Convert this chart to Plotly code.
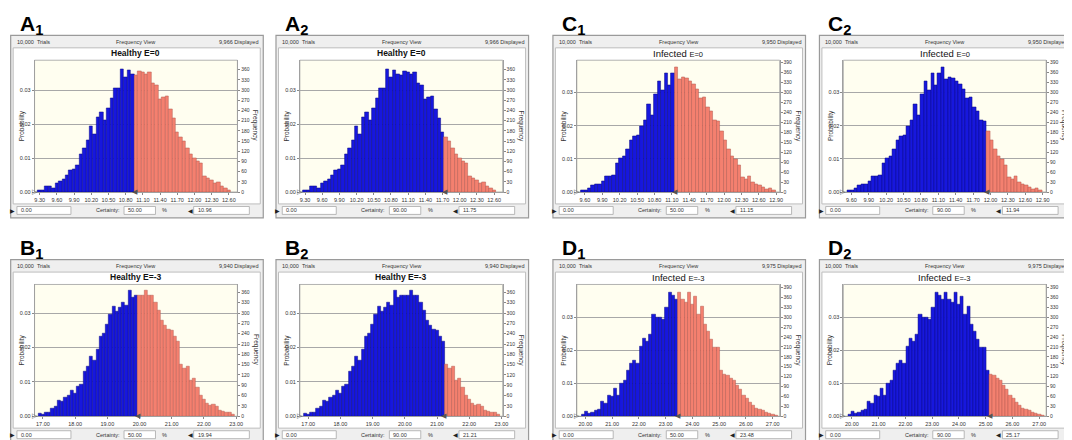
import plotly.graph_objects as go

W, H = 1072, 440
TRIALS = 10000

# ---- simulated histograms read off the Crystal Ball frequency views ----
# Healthy, E=0 (A1 / A2)
healthy0_start, healthy0_step = 9.30, 0.06
healthy0_counts = [5, 5, 16, 17, 12, 27, 32, 37, 50, 64, 67, 78, 112, 130, 152, 195, 170, 219,
                   234, 211, 247, 275, 307, 307, 362, 338, 360, 348,
                   343, 355, 352, 348, 352, 320, 313, 272, 279, 282, 245, 216, 175, 160, 150,
                   130, 110, 100, 90, 85, 47, 42, 36, 27, 30, 16, 12, 6]
healthy0_ticks = [9.30, 9.60, 9.90, 10.20, 10.50, 10.80, 11.10, 11.40, 11.70, 12.00, 12.30, 12.60]
healthy0_range = [9.21, 12.75]
healthy0_freq_top = 388
healthy0_displayed = "9,966"

# Healthy, E=-3 (B1 / B2)
healthy3_start, healthy3_step = 16.90, 0.10
healthy3_counts = [8, 6, 10, 12, 23, 28, 47, 44, 54, 59, 75, 67, 87, 92, 131, 144, 173, 163, 195,
                   232, 240, 267, 297, 318, 305, 315, 330, 321, 367, 345, 352,
                   350, 350, 365, 352, 350, 330, 308, 277, 265, 252, 249, 232, 218, 150, 140,
                   145, 105, 110, 85, 60, 50, 38, 32, 35, 28, 18, 15, 10, 12, 6]
healthy3_ticks = [17.00, 18.00, 19.00, 20.00, 21.00, 22.00, 23.00]
healthy3_range = [16.74, 23.04]
healthy3_freq_top = 383
healthy3_displayed = "9,940"

# Infected, E=0 (C1 / C2)
infected0_start, infected0_step = 9.56, 0.06
infected0_counts = [4, 5, 11, 21, 23, 24, 33, 49, 49, 52, 87, 103, 107, 128, 156, 169, 171, 199,
                    217, 263, 230, 294, 335, 307, 357, 322, 358,
                    375, 340, 345, 343, 335, 325, 309, 284, 286, 255, 243, 217, 212, 182, 156,
                    129, 108, 100, 82, 44, 39, 47, 31, 23, 20, 13, 8, 11, 5]
infected0_ticks = [9.60, 9.90, 10.20, 10.50, 10.80, 11.10, 11.40, 11.70, 12.00, 12.30, 12.60, 12.90]
infected0_range = [9.46, 12.96]
infected0_freq_top = 397
infected0_displayed = "9,950"

# Infected, E=-3 (D1 / D2)
infected3_start, infected3_step = 19.92, 0.12
infected3_counts = [5, 15, 8, 13, 18, 22, 44, 39, 63, 59, 84, 64, 100, 107, 138, 161, 169, 161,
                    212, 236, 226, 247, 308, 298, 299, 293, 329, 374, 366, 354,
                    376, 354, 345, 374, 337, 364, 308, 332, 278, 257, 231, 208, 208, 138, 128,
                    122, 115, 108, 94, 82, 63, 53, 43, 33, 24, 22, 17, 12, 7, 4, 3]
infected3_ticks = [20.00, 21.00, 22.00, 23.00, 24.00, 25.00, 26.00, 27.00]
infected3_range = [19.68, 27.26]
infected3_freq_top = 399
infected3_displayed = "9,975"

prob_ticks = [0.00, 0.01, 0.02, 0.03]

SETS = {
    "A": (healthy0_start, healthy0_step, healthy0_counts, healthy0_ticks, healthy0_range,
          healthy0_freq_top, healthy0_displayed, "<b>Healthy E=0</b>"),
    "B": (healthy3_start, healthy3_step, healthy3_counts, healthy3_ticks, healthy3_range,
          healthy3_freq_top, healthy3_displayed, "<b>Healthy E=-3</b>"),
    "C": (infected0_start, infected0_step, infected0_counts, infected0_ticks, infected0_range,
          infected0_freq_top, infected0_displayed,
          "Infected <span style='font-size:7.5px'>E=0</span>"),
    "D": (infected3_start, infected3_step, infected3_counts, infected3_ticks, infected3_range,
          infected3_freq_top, infected3_displayed,
          "Infected <span style='font-size:7.5px'>E=-3</span>"),
}

# label, data set, column, row, certainty cut value, certainty %
PANELS = [
    ("A", "1", "A", 0, 0, 10.96, 50.00),
    ("A", "2", "A", 1, 0, 11.75, 90.00),
    ("C", "1", "C", 2, 0, 11.15, 50.00),
    ("C", "2", "C", 3, 0, 11.94, 90.00),
    ("B", "1", "B", 0, 1, 19.94, 50.00),
    ("B", "2", "B", 1, 1, 21.21, 90.00),
    ("D", "1", "D", 2, 1, 23.48, 50.00),
    ("D", "2", "D", 3, 1, 25.17, 90.00),
]

COL_X = [2.7, 269.5, 548, 816]
ROW_Y = [26.7, 253]
FW, FH = 254, 184

BLUE, BLUE_EDGE = "#1717DE", "#0A0A80"
RED, RED_EDGE = "#F4806F", "#B35A50"
FONT = "Liberation Sans, Arial, sans-serif"
SYM = "DejaVu Sans"
TXT = "#333333"


def P(x):
    return x / W


def Q(y):
    return 1 - y / H


def sfx(i):
    return "" if i == 1 else str(i)


shapes = []
annots = []


def note(x, y, text, size, xanchor="left", color=TXT, angle=0, family=FONT, yanchor="middle"):
    annots.append(dict(x=P(x), y=Q(y), xref="paper", yref="paper", text=text, showarrow=False,
                       xanchor=xanchor, yanchor=yanchor, textangle=angle,
                       font=dict(size=size, color=color, family=family)))


def box(x0, y0, x1, y1, fill, line, width=1):
    shapes.append(dict(type="rect", xref="paper", yref="paper", x0=P(x0), x1=P(x1),
                       y0=Q(y1), y1=Q(y0), fillcolor=fill, line=dict(color=line, width=width),
                       layer="below"))


fig = go.Figure()
layout = {}

PL, PR, PT, PB = 24, 228, 25, 158   # plot area inside a window, px

for n, (letter, sub, key, col, row, cut, cert) in enumerate(PANELS, start=1):
    start, step, counts, ticks, xr, ftop, displayed, title = SETS[key]
    fx, fy = COL_X[col], ROW_Y[row]
    xid, yb, yo = sfx(n), sfx(2 * n - 1), sfx(2 * n)

    # window frame
    box(fx, fy, fx + FW, fy + FH, "#EFEFEF", "#9A9A9A", 1.2)
    box(fx + 2.5, fy + 12.5, fx + FW - 3, fy + 170, "#FFFFFF", "#BDBDBD", 1)

    # panel label
    note(fx + 7, fy - 26, f"<b>{letter}<sub>{sub}</sub></b>", 21, color="#000000",
         yanchor="top")

    # header row
    note(fx + 4, fy + 6.6, "10,000\u00a0\u00a0Trials", 5.5)
    note(fx + 126, fy + 6.6, "Frequency View", 5.5, "center")
    note(fx + 251, fy + 6.6, displayed + " Displayed", 5.5, "right")
    note(fx + (PL + PR) / 2, fy + 17.8, title, 8.5 if key in "AB" else 9.5, "center", "#111111")

    # axis titles
    note(fx + 11, fy + 91, "Probability", 6.5, "center", angle=-90)
    note(fx + 246.5, fy + 91, "Frequency", 6.5, "center", angle=90)

    # cream plot area
    shapes.append(dict(type="rect", xref=f"x{xid} domain", yref=f"y{yb} domain",
                       x0=0, x1=1, y0=0, y1=1, fillcolor="#FFFEF0",
                       line=dict(color="#A0A0A0", width=0.8), layer="below"))

    centres = [start + i * step for i in range(len(counts))]
    colors = [BLUE if c < cut else RED for c in centres]
    edges = [BLUE_EDGE if c < cut else RED_EDGE for c in centres]
    fig.add_trace(go.Bar(
        x0=start, dx=step, y=[c / TRIALS for c in counts], width=step,
        xaxis="x" + xid, yaxis="y" + yb,
        marker=dict(color=colors, line=dict(color=edges, width=0.5)),
        showlegend=False, hoverinfo="skip"))
    # same counts on the frequency axis (transparent) so that axis is drawn
    fig.add_trace(go.Bar(
        x0=start, dx=step, y=counts, width=step,
        xaxis="x" + xid, yaxis="y" + yo,
        marker=dict(color="rgba(0,0,0,0)", line=dict(width=0)),
        showlegend=False, hoverinfo="skip"))

    tick_font = dict(size=5.5, color=TXT, family=FONT)
    layout["xaxis" + xid] = dict(
        domain=[P(fx + PL), P(fx + PR)], anchor="y" + yb, range=xr,
        tickmode="array", tickvals=ticks, tickformat=".2f", tickfont=tick_font,
        showgrid=False, zeroline=False, showline=True, linecolor="#A0A0A0", linewidth=0.8,
        ticks="outside", ticklen=2, tickcolor="#888888", fixedrange=True)
    layout["yaxis" + yb] = dict(
        domain=[Q(fy + PB), Q(fy + PT)], anchor="x" + xid, range=[0, ftop / TRIALS],
        tickmode="array", tickvals=prob_ticks, tickformat=".2f", tickfont=tick_font,
        showgrid=True, gridcolor="#A8A8A8", gridwidth=1, zeroline=False,
        showline=True, linecolor="#A0A0A0", linewidth=0.8,
        ticks="outside", ticklen=2, tickcolor="#888888", fixedrange=True)
    layout["yaxis" + yo] = dict(
        overlaying="y" + yb, anchor="x" + xid, side="right", range=[0, ftop],
        tickmode="linear", tick0=0, dtick=30, tickfont=dict(size=5, color=TXT, family=FONT),
        showgrid=False, zeroline=False, showline=True, linecolor="#A0A0A0", linewidth=0.8,
        ticks="outside", ticklen=2, tickcolor="#888888", fixedrange=True)

    # grabbers on the x axis
    annots.append(dict(x=cut, y=0, xref="x" + xid, yref="y" + yb, text="◀", showarrow=False,
                       xanchor="center", yanchor="middle",
                       font=dict(size=7, color="#555555", family=SYM)))
    note(fx + PL, fy + PB, "▷", 7, "center", "#555555", family=SYM)

    # certainty controls
    by0, by1, bym = fy + 172.6, fy + 180.6, fy + 176.6
    note(fx + 1.8, bym, "▶", 6, "center", "#222222", family=SYM)
    box(fx + 6.3, by0, fx + 60.6, by1, "#FFFFFF", "#A8A8A8", 0.8)
    note(fx + 8.5, bym, "0.00", 5.5)
    note(fx + 112, bym, "Certainty:", 5.5, "right")
    box(fx + 114, by0, fx + 145.6, by1, "#FFFFFF", "#A8A8A8", 0.8)
    note(fx + 116, bym, f"{cert:.2f}", 5.5)
    note(fx + 150.5, bym, "%", 5.5)
    note(fx + 180.5, bym, "◀", 6, "center", "#222222", family=SYM)
    box(fx + 184, by0, fx + 240, by1, "#FFFFFF", "#A8A8A8", 0.8)
    note(fx + 186, bym, f"{cut:.2f}", 5.5)

fig.update_layout(
    width=W, height=H, margin=dict(l=0, r=0, t=0, b=0),
    paper_bgcolor="#FFFFFF", plot_bgcolor="rgba(0,0,0,0)",
    bargap=0, showlegend=False, font=dict(family=FONT, color=TXT),
    shapes=shapes, annotations=annots, **layout)

fig.write_html("out.html")
